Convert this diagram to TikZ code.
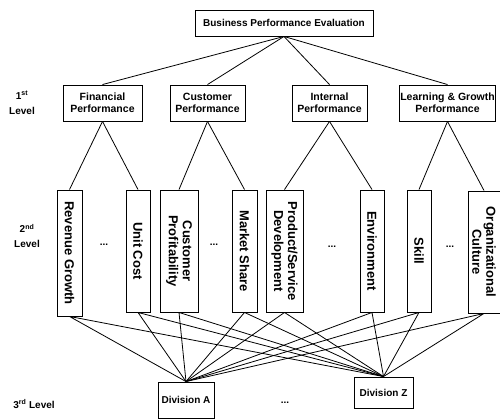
\documentclass[tikz,border=0pt]{standalone}
\usepackage{fontspec}
\setmainfont{Liberation Sans}
\usepackage{tikz}
\tikzstyle{evalbox}=[draw, rectangle, line width=0.9pt, inner sep=1pt, font=\bfseries\fontsize{10}{11}\selectfont]
\tikzstyle{perspbox}=[draw, rectangle, line width=0.9pt, inner sep=1pt, align=center, font=\bfseries\fontsize{10.5}{12}\selectfont]
\tikzstyle{measurebox}=[draw, rectangle, line width=0.9pt, inner sep=0pt, minimum height=122pt]
\tikzstyle{measuretext}=[rotate=-90, inner sep=0pt, align=center, font=\bfseries\fontsize{13}{14}\selectfont]
\tikzstyle{divbox}=[draw, rectangle, line width=0.9pt, inner sep=1pt, font=\bfseries\fontsize{10}{11}\selectfont]
\tikzstyle{levellabel}=[inner sep=0pt, align=center, font=\bfseries\fontsize{10}{15}\selectfont]
\tikzstyle{moredots}=[inner sep=0pt, font=\bfseries\fontsize{10}{11}\selectfont]

\begin{document}
\begin{tikzpicture}[x=1pt, y=-1pt, line width=0.8pt]
    \useasboundingbox (0,0) rectangle (500,419);
    % top of the hierarchy
    \node[evalbox, minimum width=178pt, minimum height=26pt] (eval) at (284,23) {Business Performance Evaluation};
    % 1st level
    \node[perspbox, minimum width=79pt, minimum height=36pt] (fin) at (102.5,103) {Financial\\Performance};
    \node[perspbox, minimum width=75pt, minimum height=36pt] (cus) at (207.5,103) {Customer\\Performance};
    \node[perspbox, minimum width=75pt, minimum height=36pt] (int) at (329.5,103) {Internal\\Performance};
    \node[perspbox, minimum width=95pt, minimum height=36pt] (lrn) at (447.5,103) {Learning \& Growth\\Performance};
    % 2nd level
    \node[measurebox, minimum width=25pt, minimum height=126pt] (rev) at (69.5,253) {};
    \node[measurebox, minimum width=24pt] (unit) at (138,251) {};
    \node[measurebox, minimum width=38pt] (cprof) at (179,251) {};
    \node[measurebox, minimum width=25pt] (mkt) at (244.5,251) {};
    \node[measurebox, minimum width=37pt] (prod) at (284.5,251) {};
    \node[measurebox, minimum width=24pt] (env) at (372,251) {};
    \node[measurebox, minimum width=24pt] (skill) at (419,251) {};
    \node[measurebox, minimum width=32pt] (org) at (484,252) {};
    \node[measuretext] (revT) at (rev) {Revenue Growth};
    \node[measuretext] (unitT) at (unit) {Unit Cost};
    \node[measuretext] (cprofT) at (cprof) {Customer\\Profitability};
    \node[measuretext] (mktT) at (mkt) {Market Share};
    \node[measuretext] (prodT) at (prod) {Product/Service\\Development};
    \node[measuretext] (envT) at (env) {Environment};
    \node[measuretext] (skillT) at (skill) {Skill};
    \node[measuretext] (orgT) at (org) {Organizational\\Culture};
    \node[moredots] (dots1) at (104,245) {...};
    \node[moredots] (dots2) at (214,245) {...};
    \node[moredots] (dots3) at (332,247) {...};
    \node[moredots] (dots4) at (450,247) {...};
    % 3rd level
    \node[divbox, minimum width=56pt, minimum height=36pt] (divA) at (186,400) {Division A};
    \node[divbox, minimum width=59pt, minimum height=31pt] (divZ) at (383.5,392.5) {Division Z};
    \node[moredots] (dots5) at (285,403) {...};
    % level names
    \node[levellabel] (lev1) at (22,103) {1\textsuperscript{st}\\Level};
    \node[levellabel] (lev2) at (27,236) {2\textsuperscript{nd}\\Level};
    \node[levellabel] (lev3) at (34,404) {3\textsuperscript{rd} Level};
    % connectors
    \draw (eval.south) -- (fin.north);
    \draw (eval.south) -- (cus.north);
    \draw (eval.south) -- (int.north);
    \draw (eval.south) -- (lrn.north);
    \draw (fin.south) -- (rev.north);
    \draw (fin.south) -- (unit.north);
    \draw (cus.south) -- (cprof.north);
    \draw (cus.south) -- (mkt.north);
    \draw (int.south) -- (prod.north);
    \draw (int.south) -- (env.north);
    \draw (lrn.south) -- (skill.north);
    \draw (lrn.south) -- (org.north);
    \draw (rev.south) -- (divA.north) (rev.south) -- (divZ.north);
    \draw (unit.south) -- (divA.north) (unit.south) -- (divZ.north);
    \draw (cprof.south) -- (divA.north) (cprof.south) -- (divZ.north);
    \draw (mkt.south) -- (divA.north) (mkt.south) -- (divZ.north);
    \draw (prod.south) -- (divA.north) (prod.south) -- (divZ.north);
    \draw (env.south) -- (divA.north) (env.south) -- (divZ.north);
    \draw (skill.south) -- (divA.north) (skill.south) -- (divZ.north);
    \draw (org.south) -- (divA.north) (org.south) -- (divZ.north);
\end{tikzpicture}
\end{document}
